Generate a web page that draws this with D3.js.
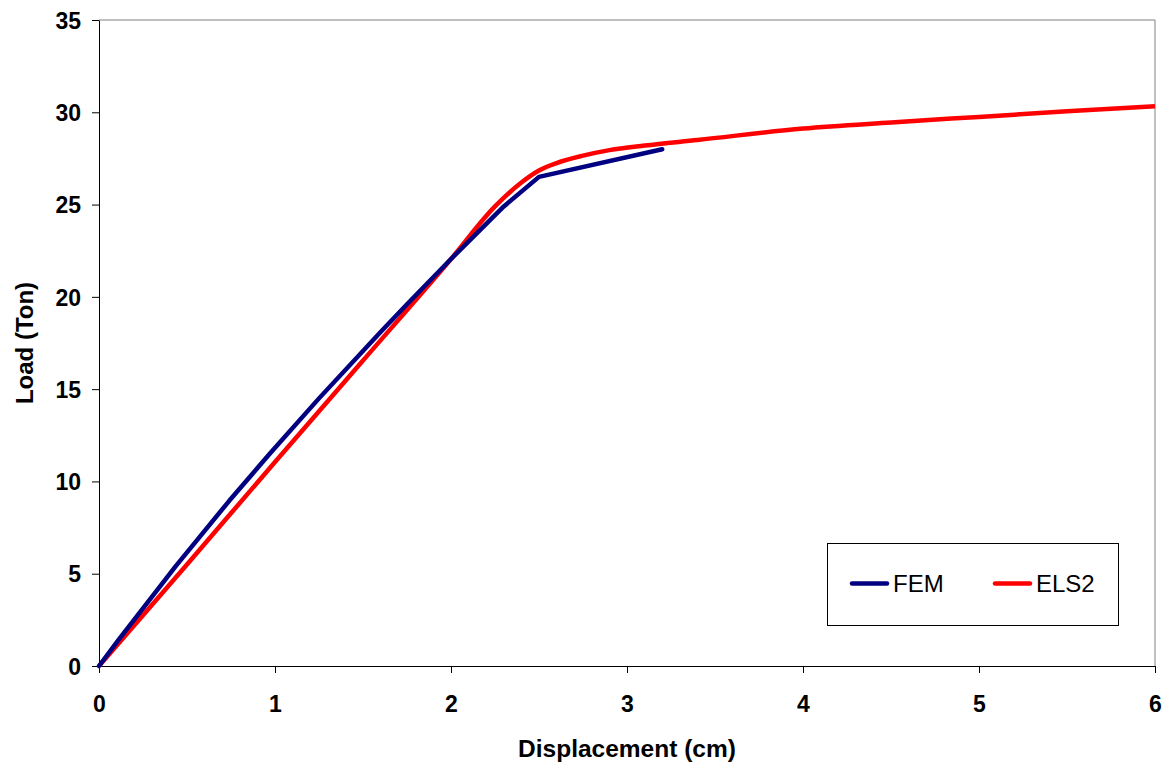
<!DOCTYPE html>
<html>
<head>
<meta charset="utf-8">
<script src="https://cdn.jsdelivr.net/npm/d3@7"></script>
<style>
  html, body { margin: 0; padding: 0; background: #fff; }
  svg { display: block; font-family: "Liberation Sans", Arial, sans-serif; }
</style>
</head>
<body>
<svg id="chart" width="1174" height="764"></svg>
<script>
// Load–displacement curves: finite element model vs. ELS2
const femDisp  = [0, 0.11, 0.435, 0.74, 0.97, 1.25, 1.6, 1.75, 2.0, 2.3, 2.5, 3.2];
const femLoad  = [0, 1.4, 5.4, 8.95, 11.5, 14.5, 18.1, 19.6, 22.05, 24.9, 26.5, 28.0];

const els2Disp = [0, 0.5, 1.0, 1.5, 2.0, 2.25, 2.4, 2.5, 2.6, 2.75, 2.9, 3.1, 3.4, 4.0, 4.5, 5.0, 5.5, 6.0];
const els2Load = [0, 5.5, 11.05, 16.55, 22.05, 24.9, 26.2, 26.85, 27.25, 27.65, 27.95, 28.2, 28.5, 29.12, 29.45, 29.75, 30.05, 30.33];

const xTicks = [0, 1, 2, 3, 4, 5, 6];
const yTicks = [0, 5, 10, 15, 20, 25, 30, 35];

const seriesNames = ["FEM", "ELS2"];
const seriesColors = ["#000080", "#ff0000"];

const svg = d3.select("#chart");
const W = 1174, H = 764;
const margin = { top: 20, right: 19, bottom: 98, left: 99 };

const x = d3.scaleLinear().domain([0, 6]).range([margin.left, W - margin.right]);
const y = d3.scaleLinear().domain([0, 35]).range([H - margin.bottom, margin.top]);

// plot frame (top and right edges)
svg.append("path")
  .attr("d", `M${x(0)},${y(35)}H${x(6)}V${y(0)}`)
  .attr("fill", "none")
  .attr("stroke", "#808080")
  .attr("stroke-width", 1);

const tickFont = 23;

// x axis
const xAxis = svg.append("g")
  .attr("transform", `translate(0,${y(0)})`)
  .call(d3.axisBottom(x).tickValues(xTicks).tickFormat(d3.format("d")).tickSize(7).tickSizeOuter(0));
xAxis.select(".domain").attr("stroke", "#000");
xAxis.selectAll(".tick line").attr("stroke", "#000");
xAxis.selectAll(".tick text")
  .attr("font-size", tickFont).attr("font-weight", "bold").attr("fill", "#000")
  .attr("font-family", "Liberation Sans, Arial, sans-serif")
  .attr("y", 0).attr("dy", null).attr("transform", "translate(0,46)");

// y axis
const yAxis = svg.append("g")
  .attr("transform", `translate(${x(0)},0)`)
  .call(d3.axisLeft(y).tickValues(yTicks).tickFormat(d3.format("d")).tickSize(7).tickSizeOuter(0));
yAxis.select(".domain").attr("stroke", "#000");
yAxis.selectAll(".tick line").attr("stroke", "#000");
yAxis.selectAll(".tick text")
  .attr("font-size", tickFont).attr("font-weight", "bold").attr("fill", "#000")
  .attr("font-family", "Liberation Sans, Arial, sans-serif")
  .attr("x", -18).attr("dy", "0.36em");

// axis titles
svg.append("text")
  .attr("x", (x(0) + x(6)) / 2).attr("y", 757)
  .attr("text-anchor", "middle")
  .attr("font-size", 24.5).attr("font-weight", "bold")
  .text("Displacement (cm)");

svg.append("text")
  .attr("transform", `translate(33,${(y(0) + y(35)) / 2}) rotate(-90)`)
  .attr("text-anchor", "middle")
  .attr("font-size", 24).attr("font-weight", "bold")
  .text("Load (Ton)");

// curves
const femData = femDisp.map((d, i) => [d, femLoad[i]]);
const els2Data = els2Disp.map((d, i) => [d, els2Load[i]]);

const femLine = d3.line().x(d => x(d[0])).y(d => y(d[1])).curve(d3.curveLinear);
const els2Line = d3.line().x(d => x(d[0])).y(d => y(d[1])).curve(d3.curveMonotoneX);

svg.append("path")
  .datum(els2Data)
  .attr("d", els2Line)
  .attr("fill", "none")
  .attr("stroke", seriesColors[1])
  .attr("stroke-width", 4.5)
  .attr("stroke-linejoin", "round");

svg.append("path")
  .datum(femData)
  .attr("d", femLine)
  .attr("fill", "none")
  .attr("stroke", seriesColors[0])
  .attr("stroke-width", 4.5)
  .attr("stroke-linejoin", "round")
  .attr("stroke-linecap", "round");

// legend
const legend = svg.append("g");
legend.append("rect")
  .attr("x", 827.5).attr("y", 543.5).attr("width", 291).attr("height", 82)
  .attr("fill", "#fff").attr("stroke", "#000").attr("stroke-width", 1);

const legendItems = [
  { name: seriesNames[0], color: seriesColors[0], x0: 852 },
  { name: seriesNames[1], color: seriesColors[1], x0: 995 }
];
legendItems.forEach(it => {
  legend.append("line")
    .attr("x1", it.x0).attr("x2", it.x0 + 35)
    .attr("y1", 583.5).attr("y2", 583.5)
    .attr("stroke", it.color).attr("stroke-width", 4.5)
    .attr("stroke-linecap", "round");
  legend.append("text")
    .attr("x", it.x0 + 41).attr("y", 592)
    .attr("font-size", 24)
    .text(it.name);
});
</script>
</body>
</html>
